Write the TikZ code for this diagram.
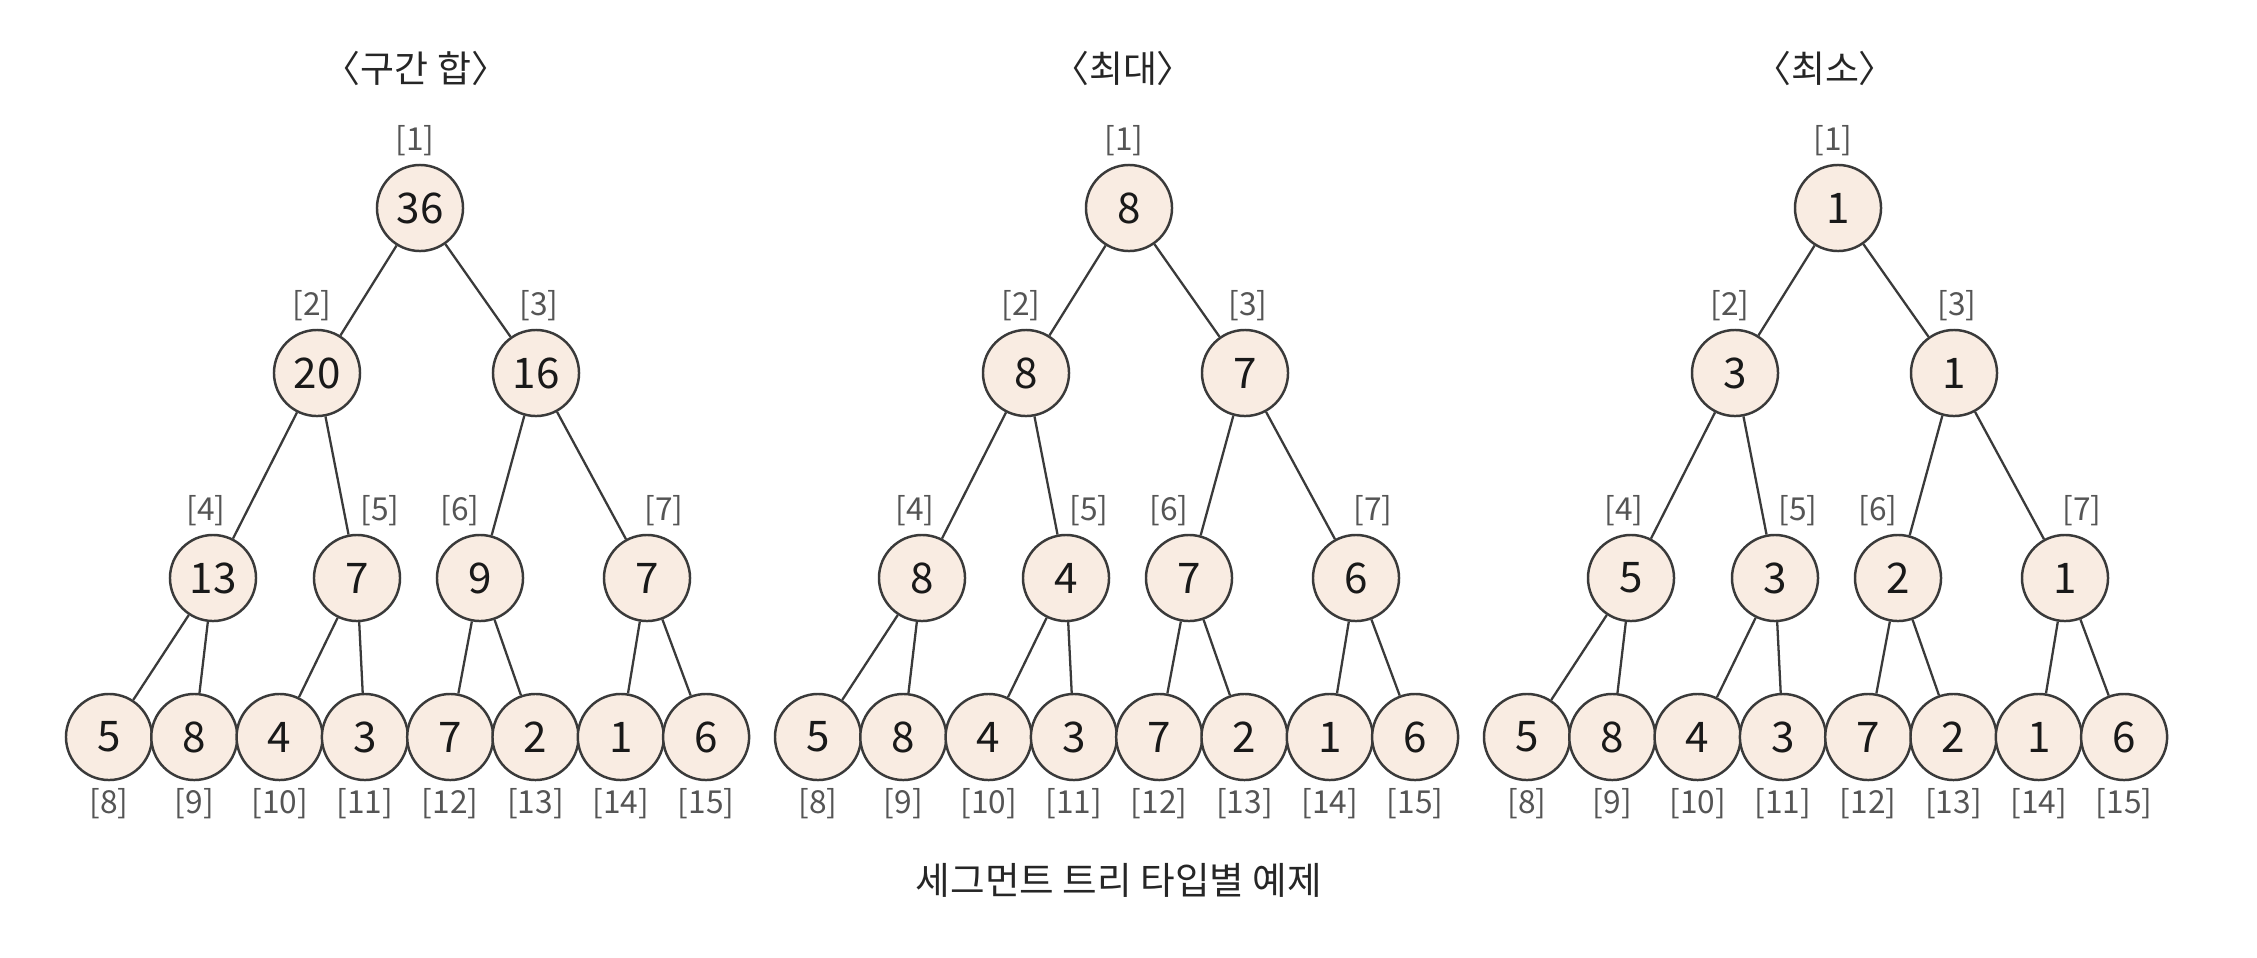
\documentclass[tikz,border=0pt]{standalone}
\usepackage{fontspec}
\setmainfont{Noto Sans CJK KR}
\usetikzlibrary{positioning}
\definecolor{segfill}{HTML}{F9ECE2}
\definecolor{segline}{HTML}{3A3A3A}
\definecolor{idxgray}{HTML}{555555}
\tikzset{
  seg/.style={circle, draw=segline, line width=0.7pt, fill=segfill,
    minimum size=0.86cm, inner sep=0pt, text=black!90,
    font=\fontsize{12}{12}\selectfont},
  idx/.style={inner sep=0pt, text=idxgray, font=\fontsize{9}{9}\selectfont},
  link/.style={segline, line width=0.65pt},
  heading/.style={inner sep=0pt, text=black!85, font=\fontsize{10.5}{10.5}\selectfont},
}
\begin{document}
\begin{tikzpicture}[x=0.01cm,y=-0.01cm]
  \useasboundingbox (0,0) rectangle (2257,957);
  % LEFT: range sum
  \begin{scope}
    \node[heading] (sumt) at (416,68) {〈구간 합〉};
    \node[seg] (sum1) at (420,208) {36};
    \node[seg] (sum2) at (317,373) {20};
    \node[seg] (sum3) at (536,373) {16};
    \node[seg] (sum4) at (213,578) {13};
    \node[seg] (sum5) at (357,578) {7};
    \node[seg] (sum6) at (480,578) {9};
    \node[seg] (sum7) at (647,578) {7};
  \end{scope}
  % CENTER: maximum
  \begin{scope}[shift={(709,0)}]
    \node[heading] (maxt) at (414,68) {〈최대〉};
    \node[seg] (max1) at (420,208) {8};
    \node[seg] (max2) at (317,373) {8};
    \node[seg] (max3) at (536,373) {7};
    \node[seg] (max4) at (213,578) {8};
    \node[seg] (max5) at (357,578) {4};
    \node[seg] (max6) at (480,578) {7};
    \node[seg] (max7) at (647,578) {6};
  \end{scope}
  % RIGHT: minimum
  \begin{scope}[shift={(1418,0)}]
    \node[heading] (mint) at (407,68) {〈최소〉};
    \node[seg] (min1) at (420,208) {1};
    \node[seg] (min2) at (317,373) {3};
    \node[seg] (min3) at (536,373) {1};
    \node[seg] (min4) at (213,578) {5};
    \node[seg] (min5) at (357,578) {3};
    \node[seg] (min6) at (480,578) {2};
    \node[seg] (min7) at (647,578) {1};
  \end{scope}
  % leaves, indices and links are the same in all three trees
  \foreach \tr/\off in {sum/0,max/709,min/1418}{
    \foreach \val [count=\n from 8] in {5,8,4,3,7,2,1,6}{
      \node[seg] (\tr\n) at ({\off+109+85.3*(\n-8)},737) {\val};
      \node[idx, below=0.06cm of \tr\n] (\tr-i\n) {[\n]};
    }
    \foreach \n/\s in {1/-5,2/-5,3/3,4/-7,5/23,6/-20,7/17}
      \node[idx, above=0.07cm of \tr\n, xshift=\s*0.01cm] (\tr-i\n) {[\n]};
    \foreach \n in {2,...,15}{
      \pgfmathtruncatemacro{\p}{\n/2}
      \draw[link] (\tr\p) -- (\tr\n);
    }
  }
  \node[heading, font=\fontsize{10.7}{10.7}\selectfont] (caption) at (1119,880) {세그먼트 트리 타입별 예제};
\end{tikzpicture}
\end{document}
